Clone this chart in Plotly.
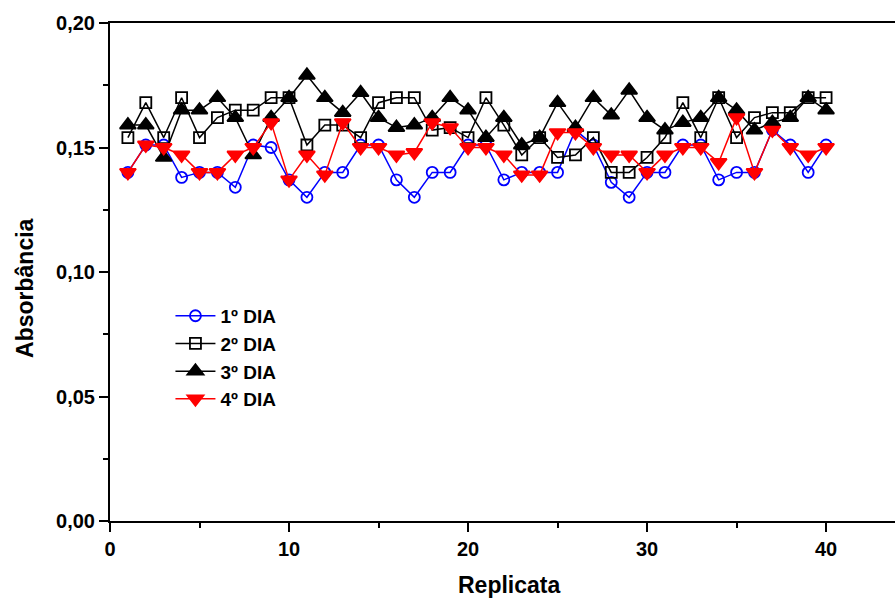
import plotly.graph_objects as go

replicata = list(range(1, 41))

dia1 = [0.140, 0.151, 0.151, 0.138, 0.140, 0.140, 0.134, 0.151, 0.150, 0.137,
        0.130, 0.140, 0.140, 0.151, 0.151, 0.137, 0.130, 0.140, 0.140, 0.151,
        0.151, 0.137, 0.140, 0.140, 0.140, 0.157, 0.151, 0.136, 0.130, 0.140,
        0.140, 0.151, 0.151, 0.137, 0.140, 0.140, 0.157, 0.151, 0.140, 0.151]

dia2 = [0.154, 0.168, 0.154, 0.170, 0.154, 0.162, 0.165, 0.165, 0.170, 0.170,
        0.151, 0.159, 0.159, 0.154, 0.168, 0.170, 0.170, 0.157, 0.158, 0.154,
        0.170, 0.159, 0.147, 0.154, 0.146, 0.147, 0.154, 0.140, 0.140, 0.146,
        0.154, 0.168, 0.154, 0.170, 0.154, 0.162, 0.164, 0.164, 0.170, 0.170]

dia3 = [0.159, 0.159, 0.146, 0.165, 0.165, 0.170, 0.162, 0.147, 0.162, 0.170,
        0.179, 0.170, 0.164, 0.172, 0.162, 0.158, 0.159, 0.162, 0.170, 0.165,
        0.154, 0.162, 0.151, 0.154, 0.168, 0.158, 0.170, 0.163, 0.173, 0.162,
        0.157, 0.160, 0.162, 0.170, 0.165, 0.157, 0.160, 0.162, 0.170, 0.165]

dia4 = [0.140, 0.151, 0.150, 0.147, 0.140, 0.140, 0.147, 0.150, 0.160, 0.137,
        0.147, 0.139, 0.160, 0.150, 0.150, 0.147, 0.148, 0.160, 0.158, 0.150,
        0.150, 0.147, 0.139, 0.139, 0.156, 0.156, 0.150, 0.147, 0.147, 0.140,
        0.147, 0.150, 0.150, 0.144, 0.162, 0.140, 0.157, 0.150, 0.147, 0.150]

series = [
    ("1º DIA", dia1, "#0000ff", "circle-open", 11),
    ("2º DIA", dia2, "#000000", "square-open", 11),
    ("3º DIA", dia3, "#000000", "triangle-up", 14),
    ("4º DIA", dia4, "#ff0000", "triangle-down", 14),
]

fig = go.Figure()
for name, vals, color, sym, size in series:
    fig.add_trace(go.Scatter(
        x=replicata, y=vals, name=name, mode="lines+markers",
        line=dict(color=color, width=1.5),
        marker=dict(symbol=sym, size=size, color=color,
                    line=dict(color=color, width=1.8)),
    ))

font_family = "Liberation Sans, Arial, sans-serif"
title_font = dict(family=font_family, size=23, color="black", weight="bold")
fig.update_layout(
    width=895, height=600,
    margin=dict(l=110, r=0, t=23, b=79),
    plot_bgcolor="white", paper_bgcolor="white",
    separators=",.",
    showlegend=True,
    legend=dict(x=0.077, y=0.45, xanchor="left", yanchor="top",
                bgcolor="rgba(0,0,0,0)", tracegroupgap=0, itemwidth=40,
                font=dict(family=font_family, size=19, color="black", weight="bold")),
    font=dict(family=font_family, color="black"),
    xaxis=dict(
        range=[0, 43.85], tickmode="array", tickvals=[0, 10, 20, 30, 40],
        ticks="outside", ticklen=9, tickwidth=2, tickcolor="black",
        showline=True, linecolor="black", linewidth=2, mirror=True,
        showgrid=False, zeroline=False,
        minor=dict(tickvals=[5, 15, 25, 35], ticks="outside", ticklen=5,
                   tickwidth=1.5, tickcolor="black"),
        tickfont=dict(family=font_family, size=20, color="black", weight="bold"),
    ),
    yaxis=dict(
        range=[0, 0.20], tickmode="array",
        tickvals=[0, 0.05, 0.10, 0.15, 0.20], tickformat=".2f",
        ticks="outside", ticklen=9, tickwidth=2, tickcolor="black",
        showline=True, linecolor="black", linewidth=2, mirror=False,
        showgrid=False, zeroline=False,
        minor=dict(tickvals=[0.025, 0.075, 0.125, 0.175], ticks="outside",
                   ticklen=5, tickwidth=1.5, tickcolor="black"),
        tickfont=dict(family=font_family, size=20, color="black", weight="bold"),
    ),
    annotations=[
        dict(text="Replicata", xref="paper", yref="paper",
             x=0.508, y=-0.1285, xanchor="center", yanchor="middle",
             showarrow=False, font=title_font),
        dict(text="Absorbância", xref="paper", yref="paper",
             x=-85 / 785, y=0.468, xanchor="center", yanchor="middle",
             textangle=-90, showarrow=False, font=title_font),
    ],
)

fig.write_html(
    "out.html",
    config={"displayModeBar": False},
    post_script="document.body.style.margin='0';document.body.style.overflow='hidden';",
)
